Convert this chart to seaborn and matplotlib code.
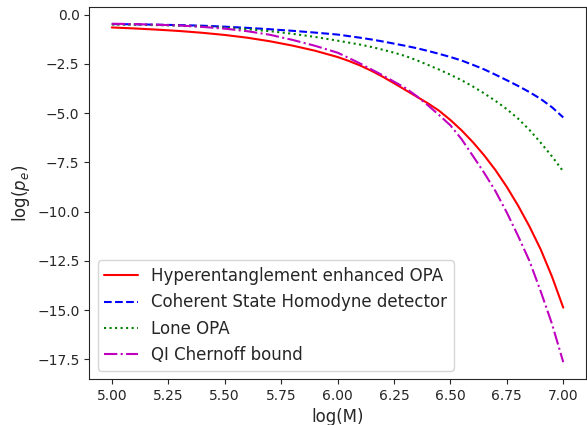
#============================= IMPORT LIBRARIES =============================

import numpy as np
import pandas as pd
import seaborn as sns
import matplotlib
matplotlib.use("Agg")
import matplotlib.pyplot as plt

#============================= DATA ==============================

log_m = [5.0, 5.1, 5.2, 5.3, 5.4, 5.5, 5.6, 5.7, 5.8, 5.9,
         6.0, 6.05, 6.1, 6.15, 6.2, 6.25, 6.3, 6.35, 6.4, 6.45,
         6.5, 6.55, 6.6, 6.65, 6.7, 6.75, 6.8, 6.85, 6.9, 6.95, 7.0]

hyper_opa = [-0.65, -0.70, -0.76, -0.83, -0.92, -1.03, -1.17, -1.35, -1.57, -1.83,
             -2.15, -2.35, -2.58, -2.85, -3.15, -3.48, -3.82, -4.16, -4.50, -4.88,
             -5.35, -5.88, -6.48, -7.15, -7.90, -8.75, -9.70, -10.75, -11.92, -13.30, -14.88]

coherent_hd = [-0.48, -0.49, -0.51, -0.53, -0.56, -0.61, -0.67, -0.74, -0.82, -0.91,
               -1.01, -1.09, -1.17, -1.26, -1.36, -1.47, -1.58, -1.70, -1.84, -1.99,
               -2.15, -2.33, -2.55, -2.78, -3.05, -3.33, -3.62, -3.93, -4.28, -4.70, -5.22]

lone_opa = [-0.50, -0.51, -0.53, -0.56, -0.60, -0.66, -0.74, -0.84, -0.97, -1.13,
            -1.32, -1.42, -1.52, -1.64, -1.78, -1.93, -2.10, -2.31, -2.55, -2.79,
            -3.05, -3.33, -3.65, -4.00, -4.38, -4.80, -5.28, -5.85, -6.50, -7.20, -7.96]

qi_chernoff = [-0.46, -0.48, -0.51, -0.55, -0.62, -0.71, -0.84, -1.02, -1.28, -1.58,
               -1.93, -2.20, -2.48, -2.78, -3.08, -3.40, -3.72, -4.13, -4.60, -5.10,
               -5.62, -6.33, -7.18, -8.04, -8.97, -10.05, -11.24, -12.50, -14.05, -15.70, -17.65]

labels = ["Hyperentanglement enhanced OPA",
          "Coherent State Homodyne detector",
          "Lone OPA",
          "QI Chernoff bound"]

#============================= PLOT ==============================

sns.set_style("ticks")

fig = plt.figure(figsize=(5.87, 4.25), dpi=100)
ax = fig.add_axes([0.152, 0.108, 0.846, 0.876])

series = [hyper_opa, coherent_hd, lone_opa, qi_chernoff]
colors = ["r", "b", "g", "m"]
styles = ["-", "--", ":", "-."]

for vals, lab, c, ls in zip(series, labels, colors, styles):
    sns.lineplot(x=log_m, y=vals, color=c, linestyle=ls, linewidth=1.5, label=lab, ax=ax)

ax.set_xticks([5.0, 5.25, 5.5, 5.75, 6.0, 6.25, 6.5, 6.75, 7.0])
ax.tick_params(labelsize=10)
ax.set_xlabel("log(M)", fontsize=12)
ax.set_ylabel("log($p_e$)", fontsize=12)
ax.legend(loc="lower left", fontsize=12)

plt.savefig("out.png", dpi=100)
